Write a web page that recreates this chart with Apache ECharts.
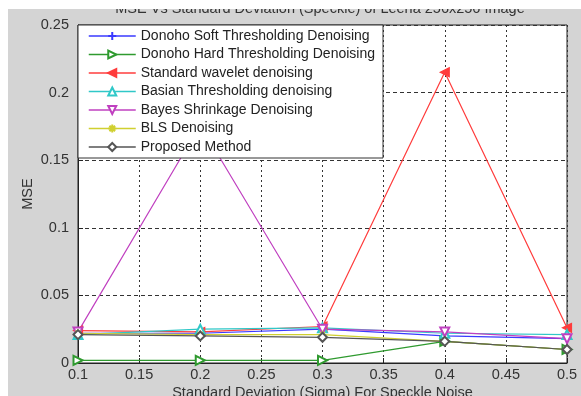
<!DOCTYPE html>
<html><head><meta charset="utf-8">
<script src="https://cdn.jsdelivr.net/npm/echarts@6/dist/echarts.min.js"></script>
<style>html,body{margin:0;padding:0;background:#fff;overflow:hidden;}#c{position:absolute;left:8px;top:9px;width:573px;height:387px;}</style>
</head><body><div id="c"></div>
<script>
const sigma = [0.1, 0.2, 0.3, 0.4, 0.5];
const seriesNames = [
  'Donoho Soft Thresholding Denoising',
  'Donoho Hard Thresholding Denoising',
  'Standard wavelet denoising',
  'Basian Thresholding denoising',
  'Bayes Shrinkage Denoising',
  'BLS Denoising',
  'Proposed Method'
];
const donohoSoft  = [0.022, 0.022, 0.025, 0.020, 0.018];
const donohoHard  = [0.002, 0.002, 0.002, 0.016, 0.010];
const standardWav = [0.024, 0.023, 0.027, 0.215, 0.026];
const basian      = [0.021, 0.025, 0.026, 0.022, 0.021];
const bayes       = [0.023, 0.176, 0.025, 0.023, 0.018];
const bls         = [0.022, 0.021, 0.021, 0.016, 0.010];
const proposed    = [0.021, 0.020, 0.019, 0.016, 0.010];
const yTicks = [0, 0.05, 0.1, 0.15, 0.2, 0.25];

const plus = 'path://M5,0L5,10M0,5L10,5';
const star = 'path://M5,0L5,10M0,5L10,5M1.5,1.5L8.5,8.5M8.5,1.5L1.5,8.5';
const defs = [
  {d: donohoSoft, c: '#3a3aff', s: plus, sz: 9, r: 0},
  {d: donohoHard, c: '#2f9a2f', s: 'emptyTriangle', sz: 9, r: -90},
  {d: standardWav, c: '#ff3c3c', s: 'triangle', sz: 9, r: 90},
  {d: basian, c: '#30c8c8', s: 'emptyTriangle', sz: 9, r: 0},
  {d: bayes, c: '#c040c0', s: 'emptyTriangle', sz: 9, r: 180},
  {d: bls, c: '#d0d030', s: star, sz: 8, r: 0},
  {d: proposed, c: '#555555', s: 'emptyDiamond', sz: 9, r: 0}
];
const series = defs.map((o, i) => ({
  name: seriesNames[i], type: 'line',
  data: sigma.map((x, j) => [x, o.d[j]]),
  symbol: o.s, symbolSize: o.sz, symbolRotate: o.r,
  color: o.c,
  lineStyle: {color: o.c, width: 1.2},
  itemStyle: {color: o.c, borderColor: o.c, borderWidth: 1.2},
  emphasis: {disabled: true}, animation: false
}));
const font = 'Liberation Sans';
const chart = echarts.init(document.getElementById('c'));
chart.setOption({
  backgroundColor: '#d4d4d4',
  animation: false,
  title: {text: 'MSE Vs Standard Deviation (Speckle) of Leena 256x256 Image', left: 307, textAlign: 'center', top: -13,
    textStyle: {fontFamily: font, fontSize: 14.5, fontWeight: 'normal', color: '#333'}},
  grid: {left: 70, right: 14, top: 16, bottom: 33, outerBoundsMode: 'none', containLabel: false,
    show: true, backgroundColor: '#fff', borderColor: '#222', borderWidth: 1},
  legend: {
    orient: 'vertical', left: 70, top: 16, itemWidth: 47, itemHeight: 10, itemGap: 2.5,
    padding: [3, 8, 3, 10], backgroundColor: '#fff', borderColor: '#333', borderWidth: 1,
    lineStyle: {width: 1.5, color: 'inherit'},
    textStyle: {fontFamily: font, fontSize: 14, color: '#222', lineHeight: 16},
    data: seriesNames
  },
  xAxis: {
    type: 'value', min: 0.1, max: 0.5, interval: 0.05,
    name: 'Standard Deviation (Sigma) For Speckle Noise', nameLocation: 'middle', nameGap: 22, nameMoveOverlap: false,
    nameTextStyle: {fontFamily: font, fontSize: 14.5, color: '#333'},
    axisLine: {lineStyle: {color: '#222'}},
    axisTick: {inside: true, length: 5, lineStyle: {color: '#222'}},
    axisLabel: {fontFamily: font, fontSize: 14.5, color: '#333', margin: 4, formatter: v => String(+v.toFixed(2))},
    splitLine: {show: true, lineStyle: {color: '#333', type: [2, 3], width: 1}}
  },
  yAxis: {
    type: 'value', min: 0, max: 0.25, interval: 0.05,
    name: 'MSE', nameLocation: 'middle', nameGap: 43, nameMoveOverlap: false,
    nameTextStyle: {fontFamily: font, fontSize: 14.5, color: '#333'},
    axisLine: {show: true, lineStyle: {color: '#222'}},
    axisTick: {inside: true, length: 5, lineStyle: {color: '#222'}},
    axisLabel: {fontFamily: font, fontSize: 14.5, color: '#333', margin: 9, formatter: v => String(+v.toFixed(2))},
    splitLine: {show: true, lineStyle: {color: '#333', type: [4, 3], width: 1}}
  },
  series: series
});
</script></body></html>
